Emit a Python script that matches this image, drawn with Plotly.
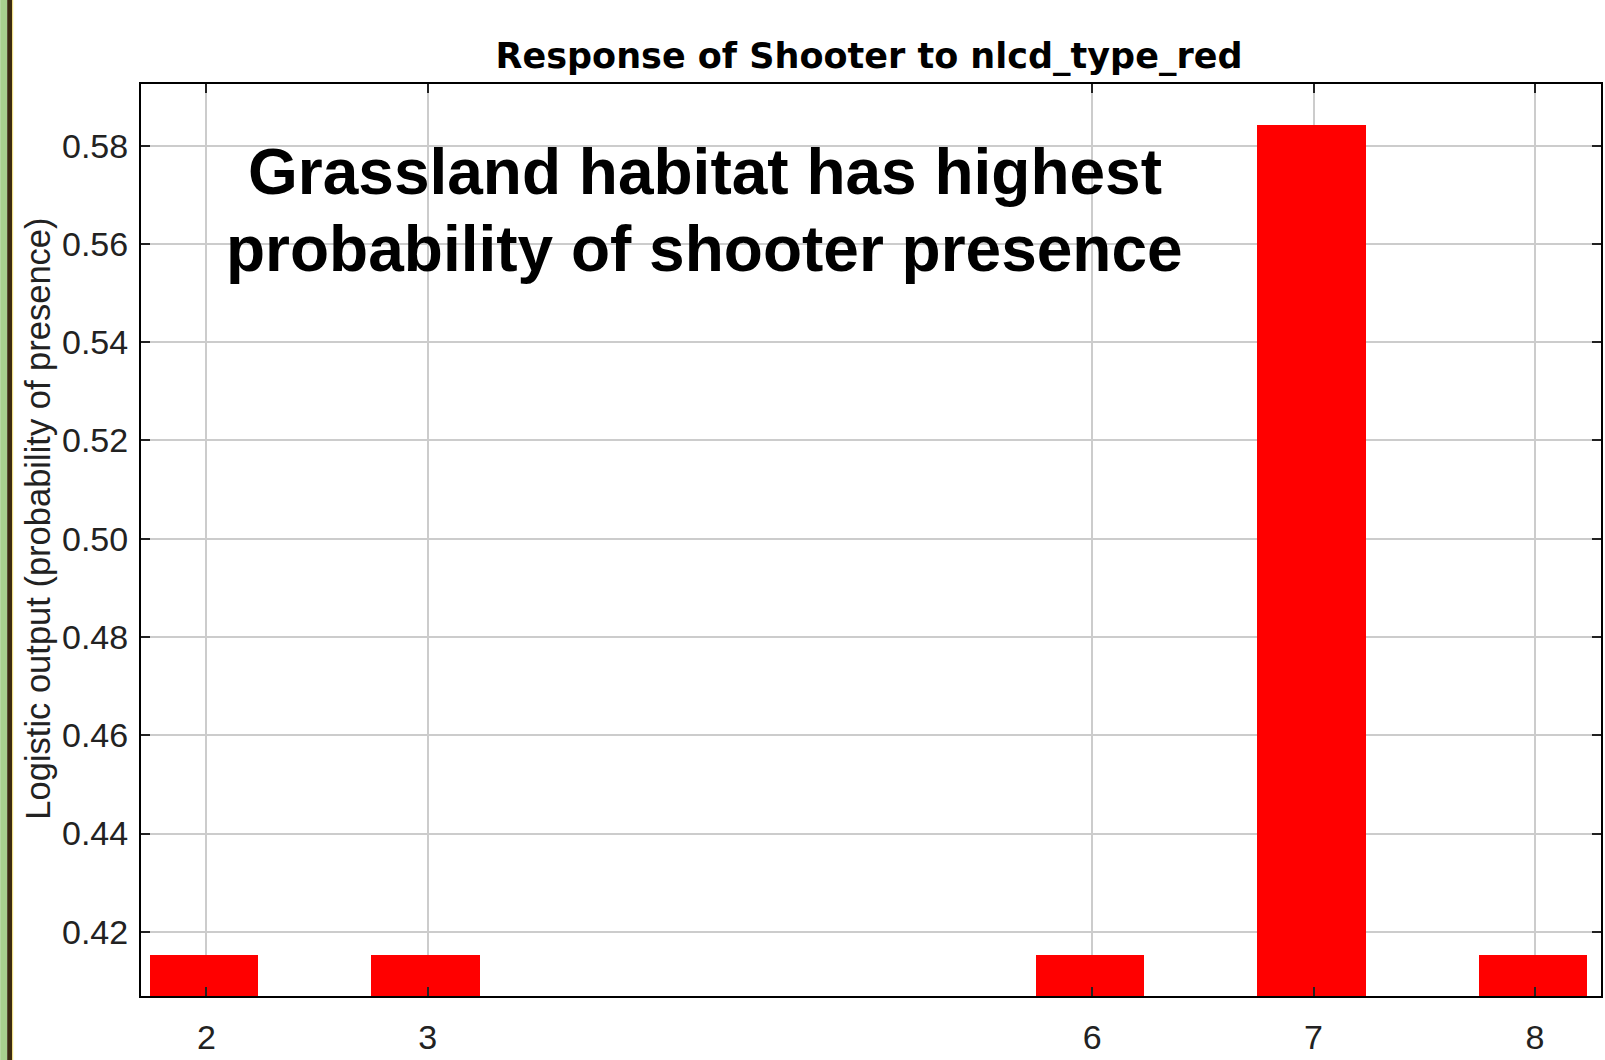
import plotly.graph_objects as go

# ---- data ----
categories = [2, 3, 6, 7, 8]
values = [0.4152, 0.4152, 0.4152, 0.5842, 0.4152]
ytick_vals = [0.42, 0.44, 0.46, 0.48, 0.50, 0.52, 0.54, 0.56, 0.58]
title_text = "Response of Shooter to nlcd_type_red"
ytitle_text = "Logistic output (probability of presence)"
note_lines = ["Grassland habitat has highest", "probability of shooter presence"]

W, H = 1605, 1060
L, R, T, B = 141, 2, 84, 64
PW, PH = W - L - R, H - T - B


def px(x):
    return (x - L) / PW


def py(y):
    return (H - B - y) / PH


fig = go.Figure()
fig.add_trace(go.Bar(
    x=categories, y=values, width=0.49, offset=-0.255,
    marker=dict(color="#ff0000", line=dict(width=0)),
    showlegend=False,
))

axis_common = dict(
    showline=True, linecolor="#000000", linewidth=2, mirror="ticks",
    ticks="inside", ticklen=9, tickwidth=2, tickcolor="#222222",
    showgrid=True, gridcolor="#cccccc", gridwidth=2, zeroline=False,
    tickfont=dict(family="Liberation Sans, Arial, sans-serif", size=34, color="#222222"),
)

fig.update_xaxes(range=[1.705, 8.298], tickvals=categories,
                 ticktext=[str(c) for c in categories], ticklabelstandoff=10, **axis_common)
fig.update_yaxes(range=[0.40694, 0.59255], tickvals=ytick_vals,
                 ticktext=[f"{v:.2f}" for v in ytick_vals], ticklabelstandoff=4, **axis_common)

annotations = [
    dict(text=ytitle_text, xref="paper", yref="paper", x=px(37), y=py(518.5),
         textangle=-90, showarrow=False, xanchor="center", yanchor="middle",
         font=dict(family="Liberation Sans, Arial, sans-serif", size=34.5, color="#222222")),
]
for i, line in enumerate(note_lines):
    annotations.append(dict(
        text="<b>" + line + "</b>", xref="paper", yref="paper",
        x=px(705.5), y=py(172 + 77 * i), showarrow=False,
        xanchor="center", yanchor="middle",
        font=dict(family="Liberation Sans, Arial, sans-serif", size=64, color="#000000"),
    ))

shapes = [
    dict(type="rect", xref="paper", yref="paper", x0=px(0), x1=px(7), y0=py(H), y1=py(0),
         fillcolor="#a9d18e", line=dict(width=0), layer="above"),
    dict(type="rect", xref="paper", yref="paper", x0=px(7), x1=px(12), y0=py(H), y1=py(0),
         fillcolor="#3b2a10", line=dict(width=0), layer="above"),
    dict(type="rect", xref="paper", yref="paper", x0=px(12), x1=px(13), y0=py(H), y1=py(0),
         fillcolor="#f3e07a", line=dict(width=0), layer="above"),
]

fig.update_layout(
    width=W, height=H,
    margin=dict(l=L, r=R, t=T, b=B, pad=0),
    paper_bgcolor="#ffffff", plot_bgcolor="#ffffff",
    title=dict(text="<b>" + title_text + "</b>", x=px(870), xref="paper", xanchor="center",
               y=1 - 56 / H, yanchor="middle", yref="container",
               font=dict(family="DejaVu Sans, sans-serif", size=35, color="#000000")),
    annotations=annotations,
    shapes=shapes,
    bargap=0,
)

fig.write_html("out.html")
